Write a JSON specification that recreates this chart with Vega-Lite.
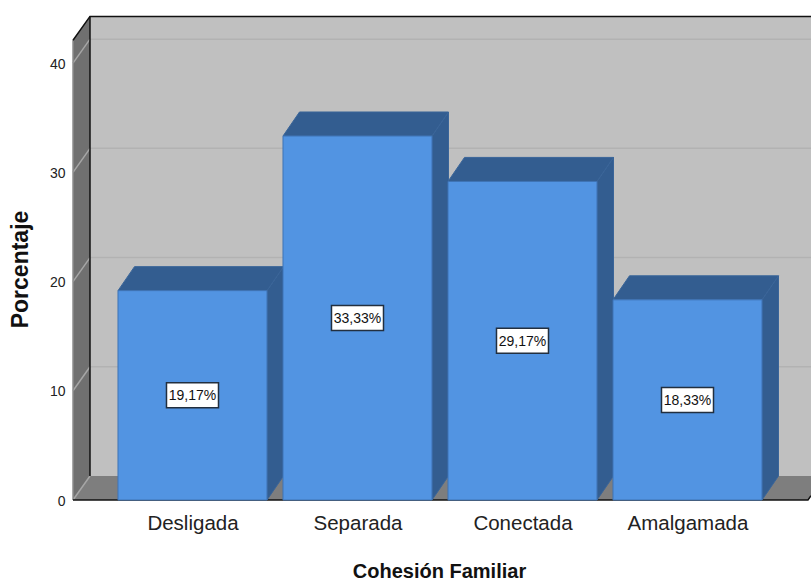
{
"$schema":"https://vega.github.io/schema/vega-lite/v6.json",
"width":738,"height":484,
"autosize":{"type":"none"},
"padding":{"left":73,"top":16,"right":0,"bottom":79},
"background":"white",
"view":{"stroke":null},
"config":{"font":"Liberation Sans"},
"resolve":{"scale":{"color":"independent"}},
"datasets":{
"bars":[
{"cat":"Desligada","i":0,"value":19.17,"label":"19,17%","mid":9.585,"x0":-0.4515,"x1":0.4515},
{"cat":"Separada","i":1,"value":33.33,"label":"33,33%","mid":16.665,"x0":0.5485,"x1":1.4515},
{"cat":"Conectada","i":2,"value":29.17,"label":"29,17%","mid":14.585,"x0":1.5485,"x1":2.4515},
{"cat":"Amalgamada","i":3,"value":18.33,"label":"18,33%","mid":9.165,"x0":2.5485,"x1":3.4515}
],
"room":[
{"poly":"wallLeft","x":-0.7242,"y":0,"y2":42.1},
{"poly":"wallLeft","x":-0.6212,"y":2.2,"y2":44.32},
{"poly":"floor","x":-0.7242,"y":0,"y2":0},
{"poly":"floor","x":-0.6212,"y":0,"y2":2.2},
{"poly":"floor","x":3.7303,"y":0,"y2":2.2},
{"poly":"floor","x":3.7485,"y":0.39,"y2":2.2}
],
"lines":[
{"id":"g10","part":"back","o":0,"x":-0.6212,"y":12.2},{"id":"g10","part":"back","o":1,"x":3.7485,"y":12.2},
{"id":"g20","part":"back","o":0,"x":-0.6212,"y":22.2},{"id":"g20","part":"back","o":1,"x":3.7485,"y":22.2},
{"id":"g30","part":"back","o":0,"x":-0.6212,"y":32.2},{"id":"g30","part":"back","o":1,"x":3.7485,"y":32.2},
{"id":"g40","part":"back","o":0,"x":-0.6212,"y":42.2},{"id":"g40","part":"back","o":1,"x":3.7485,"y":42.2},
{"id":"s0","part":"slant","o":0,"x":-0.7242,"y":0},{"id":"s0","part":"slant","o":1,"x":-0.6212,"y":2.2},
{"id":"s10","part":"slant","o":0,"x":-0.7242,"y":10},{"id":"s10","part":"slant","o":1,"x":-0.6212,"y":12.2},
{"id":"s20","part":"slant","o":0,"x":-0.7242,"y":20},{"id":"s20","part":"slant","o":1,"x":-0.6212,"y":22.2},
{"id":"s30","part":"slant","o":0,"x":-0.7242,"y":30},{"id":"s30","part":"slant","o":1,"x":-0.6212,"y":32.2},
{"id":"s40","part":"slant","o":0,"x":-0.7242,"y":40},{"id":"s40","part":"slant","o":1,"x":-0.6212,"y":42.2},
{"id":"e4","part":"front","o":0,"x":-0.7242,"y":0},{"id":"e4","part":"front","o":1,"x":-0.7242,"y":42.1},
{"id":"e1","part":"edge","o":0,"x":-0.7242,"y":42.1},{"id":"e1","part":"edge","o":1,"x":-0.6212,"y":44.28},{"id":"e1","part":"edge","o":2,"x":3.7485,"y":44.28},
{"id":"e2","part":"edge","o":0,"x":-0.6212,"y":44.28},{"id":"e2","part":"edge","o":1,"x":-0.6212,"y":2.2},
{"id":"e3","part":"edge","o":0,"x":-0.7242,"y":0},{"id":"e3","part":"edge","o":1,"x":3.7303,"y":0},{"id":"e3","part":"edge","o":2,"x":3.7485,"y":0.39}
],
"faces":[
{"poly":"side0","x":0.4515,"y":0,"y2":19.17},{"poly":"side0","x":0.5515,"y":2.2,"y2":21.37},
{"poly":"top0","x":-0.4515,"y":19.17,"y2":19.17},{"poly":"top0","x":-0.3515,"y":19.17,"y2":21.37},{"poly":"top0","x":0.4515,"y":19.17,"y2":21.37},{"poly":"top0","x":0.5515,"y":21.37,"y2":21.37},
{"poly":"side1","x":1.4515,"y":0,"y2":33.33},{"poly":"side1","x":1.5515,"y":2.2,"y2":35.53},
{"poly":"top1","x":0.5485,"y":33.33,"y2":33.33},{"poly":"top1","x":0.6485,"y":33.33,"y2":35.53},{"poly":"top1","x":1.4515,"y":33.33,"y2":35.53},{"poly":"top1","x":1.5515,"y":35.53,"y2":35.53},
{"poly":"side2","x":2.4515,"y":0,"y2":29.17},{"poly":"side2","x":2.5515,"y":2.2,"y2":31.37},
{"poly":"top2","x":1.5485,"y":29.17,"y2":29.17},{"poly":"top2","x":1.6485,"y":29.17,"y2":31.37},{"poly":"top2","x":2.4515,"y":29.17,"y2":31.37},{"poly":"top2","x":2.5515,"y":31.37,"y2":31.37},
{"poly":"side3","x":3.4515,"y":0,"y2":18.33},{"poly":"side3","x":3.5515,"y":2.2,"y2":20.53},
{"poly":"top3","x":2.5485,"y":18.33,"y2":18.33},{"poly":"top3","x":2.6485,"y":18.33,"y2":20.53},{"poly":"top3","x":3.4515,"y":18.33,"y2":20.53},{"poly":"top3","x":3.5515,"y":20.53,"y2":20.53}
]
},
"layer":[
{"data":{"values":[{"x":-0.6212,"x2":3.7485,"y":2.2,"y2":44.32}]},
 "mark":{"type":"rect","color":"#c0c0c0"},
 "encoding":{
  "x":{"field":"x","type":"quantitative","scale":{"domain":[-0.7242,3.7485],"nice":false,"zero":false},
   "axis":{"values":[0,1,2,3],"labelExpr":"['Desligada','Separada','Conectada','Amalgamada'][datum.value]","grid":false,"domain":false,"ticks":false,"labelFontSize":20.5,"labelColor":"#222222","labelPadding":13,"labelFont":"Liberation Sans","title":"Cohesión Familiar","titleFontSize":20,"titleFont":"Liberation Sans","titleFontWeight":"bold","titleColor":"#111111","titleX":366,"titleY":61}},
  "x2":{"field":"x2"},
  "y":{"field":"y","type":"quantitative","scale":{"domain":[0,44.32],"nice":false,"zero":false},
   "axis":{"values":[0,10,20,30,40],"grid":false,"domain":false,"ticks":false,"labelFontSize":14,"labelColor":"#222222","labelPadding":8,"labelOffset":1,"labelFont":"Liberation Sans","title":"Porcentaje","titleFontSize":23,"titleFont":"Liberation Sans","titleFontWeight":"bold","titleColor":"#111111","titleX":-41,"titleY":253}},
  "y2":{"field":"y2"}
 }},
{"data":{"name":"room"},
 "mark":{"type":"area","opacity":1},
 "encoding":{
  "x":{"field":"x","type":"quantitative"},
  "y":{"field":"y","type":"quantitative","stack":null},
  "y2":{"field":"y2"},
  "detail":{"field":"poly"},
  "color":{"field":"poly","type":"nominal","scale":{"domain":["wallLeft","floor"],"range":["#707070","#7e7e7e"]},"legend":null}
 }},
{"data":{"name":"lines"},
 "mark":{"type":"line","interpolate":"linear","strokeWidth":1.5},
 "encoding":{
  "x":{"field":"x","type":"quantitative"},
  "y":{"field":"y","type":"quantitative","stack":null},
  "order":{"field":"o"},
  "detail":{"field":"id"},
  "color":{"field":"part","type":"nominal","scale":{"domain":["back","slant","edge","front"],"range":["#b2b2b2","#a6a6a6","#111111","#8c8c8c"]},"legend":null}
 }},
{"data":{"name":"faces"},
 "mark":{"type":"area","color":"#335d90","stroke":"#3a6599","strokeWidth":1},
 "encoding":{
  "x":{"field":"x","type":"quantitative"},
  "y":{"field":"y","type":"quantitative","stack":null},
  "y2":{"field":"y2"},
  "detail":{"field":"poly"}
 }},
{"data":{"name":"bars"},
 "mark":{"type":"rect","color":"#5294e2","stroke":"#3f74b5","strokeWidth":1},
 "encoding":{
  "x":{"field":"x0","type":"quantitative"},
  "x2":{"field":"x1"},
  "y":{"field":"value","type":"quantitative"},
  "y2":{"datum":0}
 }},
{"data":{"name":"bars"},
 "mark":{"type":"point","shape":"M-26,-12.5H26V12.5H-26Z","size":4,"filled":true,"fill":"white","stroke":"#222f3f","strokeWidth":1.5,"opacity":1},
 "encoding":{
  "x":{"field":"i","type":"quantitative"},
  "y":{"field":"mid","type":"quantitative"}
 }},
{"data":{"name":"bars"},
 "mark":{"type":"text","fontSize":14,"color":"#111111","font":"Liberation Sans","yOffset":1},
 "encoding":{
  "x":{"field":"i","type":"quantitative"},
  "y":{"field":"mid","type":"quantitative"},
  "text":{"field":"label"}
 }}
]
}
